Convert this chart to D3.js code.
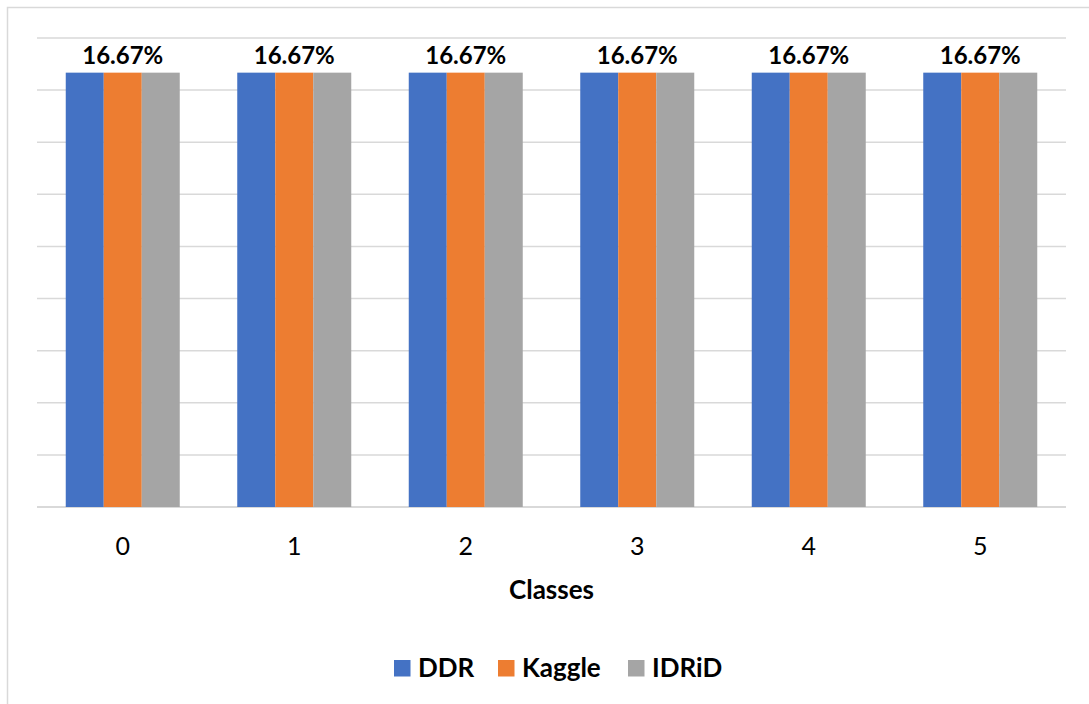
<!DOCTYPE html>
<html>
<head>
<meta charset="utf-8">
<script src="https://cdn.jsdelivr.net/npm/d3@7/dist/d3.min.js"></script>
<style>
  html, body { margin: 0; padding: 0; background: #ffffff; }
  svg { display: block; }
  text { font-family: Lato, "Open Sans", "DejaVu Sans", sans-serif; fill: #000; }
</style>
</head>
<body>
<svg id="chart" width="1089" height="704"></svg>
<script>
// Class balance per dataset (percent of samples in each class)
const classes = ["0", "1", "2", "3", "4", "5"];
const seriesNames = ["DDR", "Kaggle", "IDRiD"];
const ddr = [16.67, 16.67, 16.67, 16.67, 16.67, 16.67];
const kaggle = [16.67, 16.67, 16.67, 16.67, 16.67, 16.67];
const idrid = [16.67, 16.67, 16.67, 16.67, 16.67, 16.67];
const gridTicks = [0, 2, 4, 6, 8, 10, 12, 14, 16, 18];
const colors = ["#4472C4", "#ED7D31", "#A5A5A5"];
const seriesValues = [ddr, kaggle, idrid];

const svg = d3.select("#chart");

// Outer chart frame
svg.append("rect")
  .attr("x", 7.5).attr("y", 7.5)
  .attr("width", 1100).attr("height", 720)
  .attr("fill", "#fff")
  .attr("stroke", "#D9D9D9")
  .attr("stroke-width", 1.5);

const plot = { left: 37, right: 1066, top: 38, bottom: 507 };

const pad = 57.5 / 171.5;
const x0 = d3.scaleBand()
  .domain(classes)
  .range([plot.left, plot.right])
  .paddingInner(pad)
  .paddingOuter(pad / 2);

const x1 = d3.scaleBand()
  .domain(seriesNames)
  .range([0, x0.bandwidth()]);

const y = d3.scaleLinear()
  .domain([0, 18])
  .range([plot.bottom, plot.top]);

// Horizontal gridlines
svg.append("g")
  .selectAll("line")
  .data(gridTicks)
  .join("line")
  .attr("x1", plot.left).attr("x2", plot.right)
  .attr("y1", d => y(d)).attr("y2", d => y(d))
  .attr("stroke", "#D9D9D9")
  .attr("stroke-width", d => d === 0 ? 2 : 1.5);

// Bars
const rows = classes.map((c, i) => ({
  cls: c,
  values: seriesNames.map((s, j) => ({ series: s, value: seriesValues[j][i], color: colors[j] }))
}));

const groups = svg.append("g")
  .selectAll("g")
  .data(rows)
  .join("g")
  .attr("transform", d => `translate(${x0(d.cls)},0)`);

groups.selectAll("rect")
  .data(d => d.values)
  .join("rect")
  .attr("x", d => x1(d.series))
  .attr("y", d => y(d.value))
  .attr("width", x1.bandwidth())
  .attr("height", d => y(0) - y(d.value))
  .attr("fill", d => d.color);

// Value labels (one per class, above the middle bar)
groups.append("text")
  .attr("x", x0.bandwidth() / 2)
  .attr("y", d => y(d3.max(d.values, v => v.value)) - 9)
  .attr("text-anchor", "middle")
  .attr("font-size", 24)
  .attr("font-weight", "bold")
  .text(d => d.values[1].value.toFixed(2) + "%");

// Category axis
const xAxis = svg.append("g")
  .attr("transform", `translate(0,${plot.bottom})`)
  .call(d3.axisBottom(x0).tickSize(0).tickPadding(0));
xAxis.select(".domain").remove();
xAxis.selectAll("text")
  .attr("y", 48)
  .attr("dy", 0)
  .attr("font-size", 25)
  .attr("font-family", 'Lato, "Open Sans", sans-serif')
  .attr("fill", "#000");

// Axis title
svg.append("text")
  .attr("x", (plot.left + plot.right) / 2)
  .attr("y", 599)
  .attr("text-anchor", "middle")
  .attr("font-size", 26)
  .attr("font-weight", "bold")
  .text("Classes");

// Legend
const legendItems = [
  { name: "DDR", x: 394 },
  { name: "Kaggle", x: 498 },
  { name: "IDRiD", x: 628 }
];
const legend = svg.append("g");
legendItems.forEach((item, i) => {
  legend.append("rect")
    .attr("x", item.x).attr("y", 660)
    .attr("width", 16.5).attr("height", 16.5)
    .attr("fill", colors[i]);
  legend.append("text")
    .attr("x", item.x + 24)
    .attr("y", 677)
    .attr("font-size", 26)
    .attr("font-weight", "bold")
    .text(item.name);
});
</script>
</body>
</html>
